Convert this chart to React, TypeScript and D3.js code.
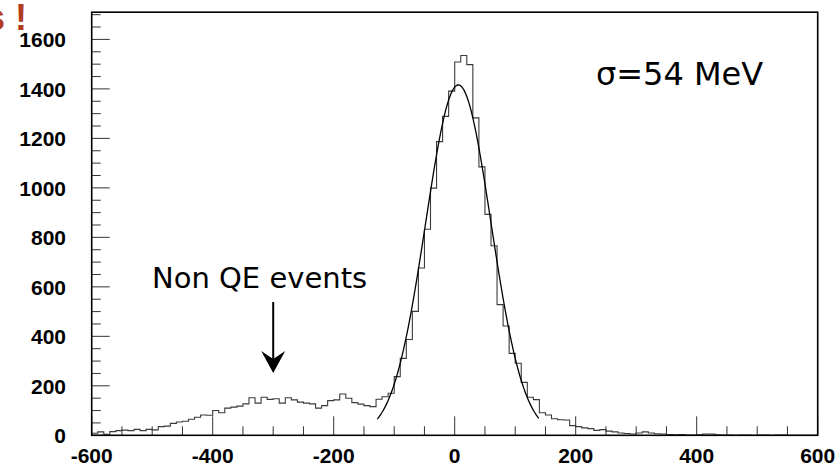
import React from "react";
import * as d3 from "d3";

const binStart = -600;
const binWidth = 10;
const counts: number[] = [
  8, 14, 4, 15, 19, 21, 19, 24, 19, 24,
  22, 35, 37, 48, 54, 57, 65, 73, 82, 81,
  100, 91, 110, 114, 118, 127, 152, 130, 154, 145,
  148, 130, 152, 143, 134, 130, 127, 110, 120, 140,
  143, 167, 150, 132, 126, 120, 116, 146, 156, 170,
  237, 311, 387, 501, 676, 833, 999, 1187, 1289, 1391,
  1509, 1535, 1498, 1283, 1085, 893, 766, 528, 442, 331,
  291, 214, 154, 144, 91, 82, 67, 63, 62, 39,
  35, 30, 27, 20, 23, 17, 14, 9, 7, 5,
  9, 14, 9, 6, 5, 3, 2, 3, 1, 1,
  2, 5, 5, 2, 1, 1, 0, 1, 1, 0,
  1, 1, 0, 1, 1, 0, 0, 0, 0, 0,
];

const xTickLabels = [-600, -400, -200, 0, 200, 400, 600];
const yTickLabels = [0, 200, 400, 600, 800, 1000, 1200, 1400, 1600];

// Gaussian fit parameters
const fitMean = 6;
const fitSigma = 54;
const fitAmplitude = 1416;
const fitRange = [-128, 139];

const annotationText = "Non QE events";
const sigmaText = "σ=54 MeV";
const titleFragment = "s !";

export default function App() {
  const W = 838;
  const H = 467;
  const x = d3.scaleLinear().domain([-600, 600]).range([91.7, 817.7]);
  const y = d3.scaleLinear().domain([0, 1710]).range([435.3, 12.2]);

  const histPoints: [number, number][] = counts.map((c, i) => [binStart + i * binWidth, c]);
  histPoints.push([binStart + counts.length * binWidth, counts[counts.length - 1]]);
  const histLine = d3
    .line<[number, number]>()
    .x((d) => x(d[0]))
    .y((d) => y(d[1]))
    .curve(d3.curveStepAfter);

  const fitXs = d3.range(fitRange[0], fitRange[1] + 0.01, 1);
  const fitPts: [number, number][] = fitXs.map((v) => [
    v,
    fitAmplitude * Math.exp(-((v - fitMean) ** 2) / (2 * fitSigma * fitSigma)),
  ]);
  const fitLine = d3
    .line<[number, number]>()
    .x((d) => x(d[0]))
    .y((d) => y(d[1]))
    .curve(d3.curveLinear);

  const xMinor = d3.range(-600, 601, 50);
  const yMinor = d3.range(0, 1701, 50);
  const x0 = x(-600);
  const x1 = x(600);
  const y0 = y(0);
  const yTop = y(1710);

  const arrowX = x(-300);
  const labelFont = "'Liberation Sans', Arial, Helvetica, sans-serif";
  const annoFont = "'DejaVu Sans', 'Liberation Sans', sans-serif";

  return (
    <svg
      width={W}
      height={H}
      style={{ position: "absolute", left: 0, top: 0, display: "block", background: "#fff" }}
    >
      <rect x={0} y={0} width={W} height={H} fill="#fff" />
      {/* title fragment */}
      <text
        x={27}
        y={30}
        textAnchor="end"
        fontFamily={labelFont}
        fontWeight="bold"
        fontSize={36}
        fill="#b33c1f"
      >
        {titleFragment}
      </text>

      {/* minor/major ticks x */}
      {xMinor.map((v) => {
        const major = xTickLabels.includes(v);
        return (
          <line
            key={"xt" + v}
            x1={x(v)}
            x2={x(v)}
            y1={y0}
            y2={y0 - (major ? 19 : 9)}
            stroke="#333"
            strokeWidth={1}
          />
        );
      })}
      {yMinor.map((v) => {
        const major = yTickLabels.includes(v);
        return (
          <line
            key={"yt" + v}
            x1={x0}
            x2={x0 + (major ? 18 : 9)}
            y1={y(v)}
            y2={y(v)}
            stroke="#333"
            strokeWidth={1}
          />
        );
      })}

      {/* histogram */}
      <path d={histLine(histPoints) || ""} fill="none" stroke="#3a3a3a" strokeWidth={1.1} />
      {/* fit */}
      <path d={fitLine(fitPts) || ""} fill="none" stroke="#000" strokeWidth={1.3} />

      {/* frame */}
      <rect x={x0} y={yTop} width={x1 - x0} height={y0 - yTop} fill="none" stroke="#000" strokeWidth={1.6} />

      {/* tick labels */}
      {xTickLabels.map((v) => (
        <text
          key={"xl" + v}
          x={x(v)}
          y={463}
          textAnchor="middle"
          fontFamily={labelFont}
          fontWeight="bold"
          fontSize={21}
          fill="#000"
        >
          {v}
        </text>
      ))}
      {yTickLabels.map((v) => (
        <text
          key={"yl" + v}
          x={66}
          y={y(v) + 8}
          textAnchor="end"
          fontFamily={labelFont}
          fontWeight="bold"
          fontSize={21}
          fill="#000"
        >
          {v}
        </text>
      ))}

      {/* annotation */}
      <text x={152} y={288} fontFamily={annoFont} fontSize={29} fill="#000">
        {annotationText}
      </text>
      <line x1={arrowX} x2={arrowX} y1={302} y2={360} stroke="#000" strokeWidth={2} />
      <path
        d={`M${arrowX - 12},351 L${arrowX},373 L${arrowX + 12},351 L${arrowX},359 Z`}
        fill="#000"
      />
      <text x={596} y={85} fontFamily={annoFont} fontSize={32} fill="#000">
        {sigmaText}
      </text>
    </svg>
  );
}
